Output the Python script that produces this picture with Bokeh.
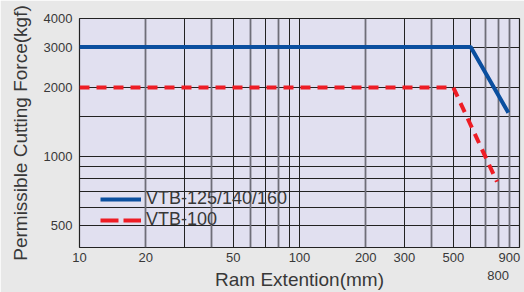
from bokeh.plotting import figure
from bokeh.models import FixedTicker, Grid, Legend, LegendItem, Range1d
from bokeh.embed import file_html
from bokeh.resources import INLINE

# ---- data ----
x_tick_values = [10, 20, 50, 100, 200, 300, 500, 800, 900]
x_tick_lower = [800]          # label drawn on a second line
y_tick_values = [500, 1000, 2000, 3000, 4000]
x_grid_dark = [30, 50, 70, 90, 100, 300, 500, 600]
x_grid_light = [20, 40, 60, 80, 200, 400, 700, 800, 900]
y_grid_lines = [500, 600, 700, 800, 900, 1000, 1500, 2000, 3000]
series_names = ["VTB-125/140/160", "VTB-100"]
blue_x = [10, 600, 890]
blue_y = [3000, 3000, 1550]
red_x = [10, 500, 790]
red_y = [2000, 2000, 775]

FONT = "Liberation Sans"
TXT = "#383838"
BLUE = "#0b4f9f"
RED = "#ee1d25"

p = figure(width=524, height=292, x_axis_type="log", y_axis_type="log",
           x_range=Range1d(10, 1000), y_range=Range1d(400, 4000),
           output_backend="svg", toolbar_location=None,
           min_border_left=79, min_border_right=5, min_border_top=18, min_border_bottom=44)

p.background_fill_color = "#e1e0f0"
p.border_fill_color = "#e8e8e8"
p.outline_line_color = "#222222"
p.outline_line_width = 1.2

# grids
p.xgrid.ticker = FixedTicker(ticks=x_grid_dark)
p.xgrid.grid_line_color = "#222222"
p.xgrid.grid_line_width = 1
p.ygrid.ticker = FixedTicker(ticks=y_grid_lines)
p.ygrid.grid_line_color = "#222222"
p.ygrid.grid_line_width = 1
p.add_layout(Grid(dimension=0, ticker=FixedTicker(ticks=x_grid_light),
                  grid_line_color="#6e6e78", grid_line_width=1.8))

# axes
for ax in (p.xaxis[0], p.yaxis[0]):
    ax.axis_line_color = None
    ax.major_tick_line_color = None
    ax.minor_tick_line_color = None
    ax.major_tick_out = 0
    ax.major_tick_in = 0
    ax.major_label_text_font = FONT
    ax.major_label_text_font_size = "13px"
    ax.major_label_text_color = TXT
    ax.axis_label_text_font = FONT
    ax.axis_label_text_font_style = "normal"
    ax.axis_label_text_color = TXT

p.xaxis.ticker = FixedTicker(ticks=x_tick_values)
p.xaxis.major_label_overrides = {v: "\n" + str(v) for v in x_tick_lower}
p.xaxis.major_label_standoff = 2
p.xaxis.axis_label = "Ram Extention(mm)"
p.xaxis.axis_label_text_font_size = "19px"
p.xaxis.axis_label_standoff = -17
p.yaxis.ticker = FixedTicker(ticks=y_tick_values)
p.yaxis.major_label_standoff = 7
p.yaxis.axis_label = "Permissible Cutting Force(kgf)"
p.yaxis.axis_label_text_font_size = "19px"
p.yaxis.axis_label_standoff = 10

# series
r_blue = p.line(blue_x, blue_y, line_color=BLUE, line_width=4)
r_red = p.line(red_x, red_y, line_color=RED, line_width=4, line_dash="10 7")

# legend swatches: single-point lines (draw nothing in the plot)
s_blue = p.line(blue_x[:1], blue_y[:1], line_color=BLUE, line_width=4)
s_red = p.line(red_x[:1], red_y[:1], line_color=RED, line_width=4, line_dash="18 5")

legend = Legend(items=[LegendItem(label=series_names[0], renderers=[s_blue]),
                       LegendItem(label=series_names[1], renderers=[s_red])],
                location=(21, 17), background_fill_alpha=0, border_line_color=None,
                padding=0, margin=0, spacing=-2, glyph_width=41, glyph_height=20,
                label_height=20, label_standoff=5,
                label_text_font=FONT, label_text_font_size="18px", label_text_color=TXT)
p.add_layout(legend)

open("out.html", "w").write(file_html(p, INLINE))
